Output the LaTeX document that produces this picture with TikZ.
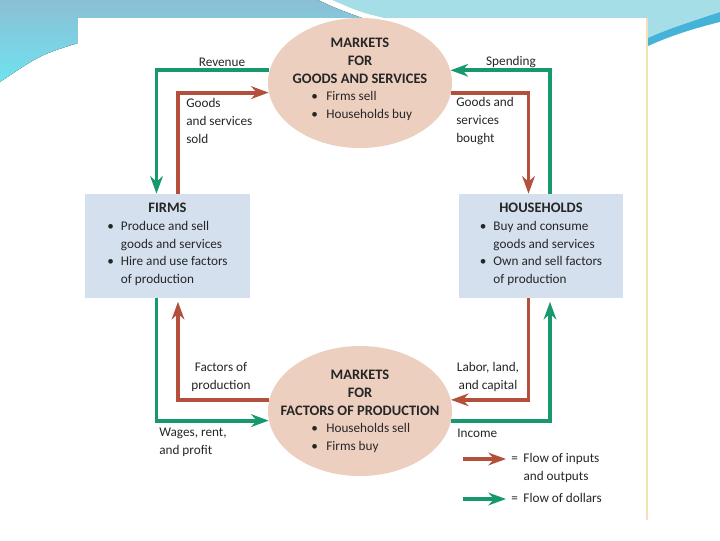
\documentclass[tikz,border=0pt]{standalone}
\usepackage{fontspec}
\setmainfont{Carlito}
\usetikzlibrary{arrows.meta, calc, shapes.geometric}
\definecolor{flowgreen}{HTML}{18986F}
\definecolor{flowred}{HTML}{B2503C}
\definecolor{marketfill}{HTML}{EDCFC0}
\definecolor{sectorfill}{HTML}{D5E0EE}
\definecolor{skyblue}{HTML}{8BBFD6}
\definecolor{skycyan}{HTML}{6FE2EE}
\definecolor{palecyan}{HTML}{A6DEE7}
\definecolor{deepcyan}{HTML}{45B2D8}
\definecolor{edgebeige}{HTML}{F1E2B6}
\newcommand{\headfont}{\fontsize{10.3}{12.6}\selectfont\bfseries}

\begin{document}
\begin{tikzpicture}[
    x=0.025cm, y=-0.025cm,
    every node/.style={font=\fontsize{9.4}{12.6}\selectfont, text=black!85, inner sep=0pt},
    goodsflow/.style={draw=flowred, line width=2.8pt, -{Stealth[length=12.5pt,width=9pt,inset=4pt]}},
    dollarflow/.style={goodsflow, draw=flowgreen},
    market/.style={ellipse, fill=marketfill, minimum width=4.6cm, minimum height=3.25cm},
    sector/.style={rectangle, fill=sectorfill, minimum width=4.1cm, minimum height=2.6cm, align=center},
    headtext/.style={font=\headfont, align=center},
]
\useasboundingbox (0,0) rectangle (720,540);
% slide background: blue bands at the top, white sheet in front
\fill[top color=skyblue, bottom color=skycyan] (0,0) -- (318,0) .. controls (335,8) .. (362,18)
   -- (78,18) -- (78,43) .. controls (40,55) .. (0,82) -- cycle;
\fill[palecyan] (332,0) -- (720,0) -- (720,12) .. controls (690,22) and (665,30) .. (648,38)
   -- (648,18) -- (384,18) .. controls (360,12) .. (332,0) -- cycle;
\fill[deepcyan] (720,12) .. controls (690,22) and (665,30) .. (648,38)
   -- (648,46) .. controls (670,36) and (695,28) .. (720,22) -- cycle;
\fill[white] (78,18) rectangle (648,522);
\draw[edgebeige, line width=1.5pt] (647,18) -- (647,520);

% the two markets
\node[market] (goods) at (360,83) {};
\node[headtext] (goodstitle) at (360,61) {MARKETS\\FOR\\GOODS AND SERVICES};
\node[anchor=west] (goodslist) at (311,106)
   {\begin{tabular}{@{}l@{\hspace{6pt}}l@{}}\textbullet & Firms sell\\ \textbullet & Households buy\end{tabular}};
\node[market] (factors) at (360,411) {};
\node[headtext] (factorstitle) at (360,393) {MARKETS\\FOR\\FACTORS OF PRODUCTION};
\node[anchor=west] (factorslist) at (311,438)
   {\begin{tabular}{@{}l@{\hspace{6pt}}l@{}}\textbullet & Households sell\\ \textbullet & Firms buy\end{tabular}};

% the two sectors
\node[sector] (firms) at (167.5,246) {{\headfont FIRMS}\\
   \begin{tabular}[t]{@{}l@{\hspace{5pt}}l@{}}
   \textbullet & Produce and sell\\ & goods and services\\
   \textbullet & Hire and use factors\\ & of production
   \end{tabular}};
\node[sector] (households) at (541,246) {{\headfont HOUSEHOLDS}\\
   \begin{tabular}[t]{@{}l@{\hspace{5pt}}l@{}}
   \textbullet & Buy and consume\\ & goods and services\\
   \textbullet & Own and sell factors\\ & of production
   \end{tabular}};

% flows of goods and factors (red)
\draw[goodsflow] ($(firms.north)+(10.5,0)$) |- (goods.186);
\draw[goodsflow] (goods.354) -| ($(households.north)+(-12.5,0)$);
\draw[goodsflow] ($(households.south)+(-12.5,0)$) |- (factors.7);
\draw[goodsflow, shorten >=2.5pt] (factors.173) -| ($(firms.south)+(10.5,0)$);
% flows of dollars (green)
\draw[dollarflow] (goods.172) -| ($(firms.north)+(-11,0)$);
\draw[dollarflow] ($(households.north)+(9,0)$) |- (goods.8);
\draw[dollarflow] ($(firms.south)+(-11,0)$) |- (factors.186);
\draw[dollarflow, shorten >=2.5pt] (factors.354) -| ($(households.south)+(9,0)$);

% flow labels
\node (revenue) at (222,62) {Revenue};
\node (spending) at (511,62) {Spending};
\node[anchor=west, align=left] (sold) at (186,121) {Goods\\and services\\sold};
\node[anchor=west, align=left] (bought) at (456,121) {Goods and\\services\\bought};
\node[align=center] (factorsin) at (221,377) {Factors of\\production};
\node[align=center] (labor) at (488,377) {Labor, land,\\and capital};
\node[anchor=west, align=left] (wages) at (159,442) {Wages, rent,\\and profit};
\node[anchor=west] (income) at (457,433) {Income};

% legend
\coordinate (keyin0) at (463,459);
\coordinate (keyin1) at (506,459);
\draw[goodsflow] (keyin0) -- (keyin1);
\node[anchor=west] (keyintext) at (511,468)
   {\begin{tabular}{@{}l@{\hspace{4pt}}l@{}}= & Flow of inputs\\ & and outputs\end{tabular}};
\coordinate (keyout0) at (463,499);
\coordinate (keyout1) at (506,499);
\draw[dollarflow] (keyout0) -- (keyout1);
\node[anchor=west] (keyouttext) at (511,499)
   {\begin{tabular}{@{}l@{\hspace{4pt}}l@{}}= & Flow of dollars\end{tabular}};
\end{tikzpicture}
\end{document}
